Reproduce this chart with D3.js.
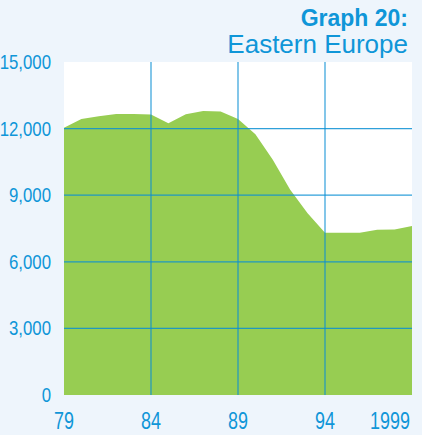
<!DOCTYPE html>
<html>
<head>
<meta charset="utf-8">
<script src="https://cdn.jsdelivr.net/npm/d3@7"></script>
<style>
  body { margin: 0; background: #eef5fc; }
  text { font-family: "Liberation Sans", Arial, sans-serif; fill: #0f96d8; }
</style>
</head>
<body>
<div id="chart"></div>
<script>
var years = [79, 80, 81, 82, 83, 84, 85, 86, 87, 88, 89, 90, 91, 92, 93, 94, 95, 96, 97, 98, 99];
var values = [12040, 12430, 12560, 12660, 12660, 12640, 12240, 12650, 12790, 12770, 12430,
              11740, 10600, 9250, 8190, 7310, 7310, 7310, 7440, 7460, 7610];
var yTicks = [0, 3000, 6000, 9000, 12000, 15000];
var xTicks = [79, 84, 89, 94, 99];
var xTickLabels = ["79", "84", "89", "94", "1999"];
var xGrid = [84, 89, 94];
var yGrid = [3000, 6000, 9000, 12000];

var width = 422, height = 435;

var svg = d3.select("#chart").append("svg")
    .attr("width", width)
    .attr("height", height);

svg.append("rect")
    .attr("width", width)
    .attr("height", height)
    .attr("fill", "#eef5fc");

var x = d3.scaleLinear().domain([79, 99]).range([64, 412]);
var y = d3.scaleLinear().domain([0, 15000]).range([395, 62]);

// plot background
svg.append("rect")
    .attr("x", x.range()[0])
    .attr("y", y.range()[1])
    .attr("width", x.range()[1] - x.range()[0])
    .attr("height", y.range()[0] - y.range()[1])
    .attr("fill", "#fff");

var area = d3.area()
    .x(function(d, i) { return x(years[i]); })
    .y0(y(0))
    .y1(function(d) { return y(d); });

svg.append("path")
    .datum(values)
    .attr("d", area)
    .attr("fill", "#97cd52");

// grid
svg.selectAll(".vgrid")
    .data(xGrid)
  .enter().append("line")
    .attr("x1", d => x(d))
    .attr("x2", d => x(d))
    .attr("y1", y(15000))
    .attr("y2", y(0))
    .attr("stroke", "#0b8fd3")
    .attr("stroke-opacity", 0.85)
    .attr("stroke-width", 1.2);

svg.selectAll(".hgrid")
    .data(yGrid)
  .enter().append("line")
    .attr("x1", x(79))
    .attr("x2", x(99))
    .attr("y1", d => y(d))
    .attr("y2", d => y(d))
    .attr("stroke", "#0b8fd3")
    .attr("stroke-opacity", 0.85)
    .attr("stroke-width", 1.2);

// y labels (narrow face)
var fmt = d3.format(",");
svg.selectAll(".ylab")
    .data(yTicks)
  .enter().append("text")
    .attr("transform", d => "translate(51," + (y(d) + 7) + ") scale(0.84,1)")
    .attr("text-anchor", "end")
    .style("font-size", "20px")
    .text(d => fmt(d));

// x labels
svg.selectAll(".xlab")
    .data(xTicks)
  .enter().append("text")
    .attr("transform", function(d, i) {
      var px = i === xTicks.length - 1 ? x(d) - 2 : x(d);
      return "translate(" + px + ",429) scale(0.78,1)";
    })
    .attr("text-anchor", (d, i) => i === xTicks.length - 1 ? "end" : "middle")
    .style("font-size", "23px")
    .text((d, i) => xTickLabels[i]);

// title
svg.append("text")
    .attr("x", 408)
    .attr("y", 26)
    .attr("text-anchor", "end")
    .style("font-size", "23px")
    .style("font-weight", "bold")
    .text("Graph 20:");

svg.append("text")
    .attr("x", 408)
    .attr("y", 53)
    .attr("text-anchor", "end")
    .style("font-size", "26px")
    .text("Eastern Europe");
</script>
</body>
</html>
